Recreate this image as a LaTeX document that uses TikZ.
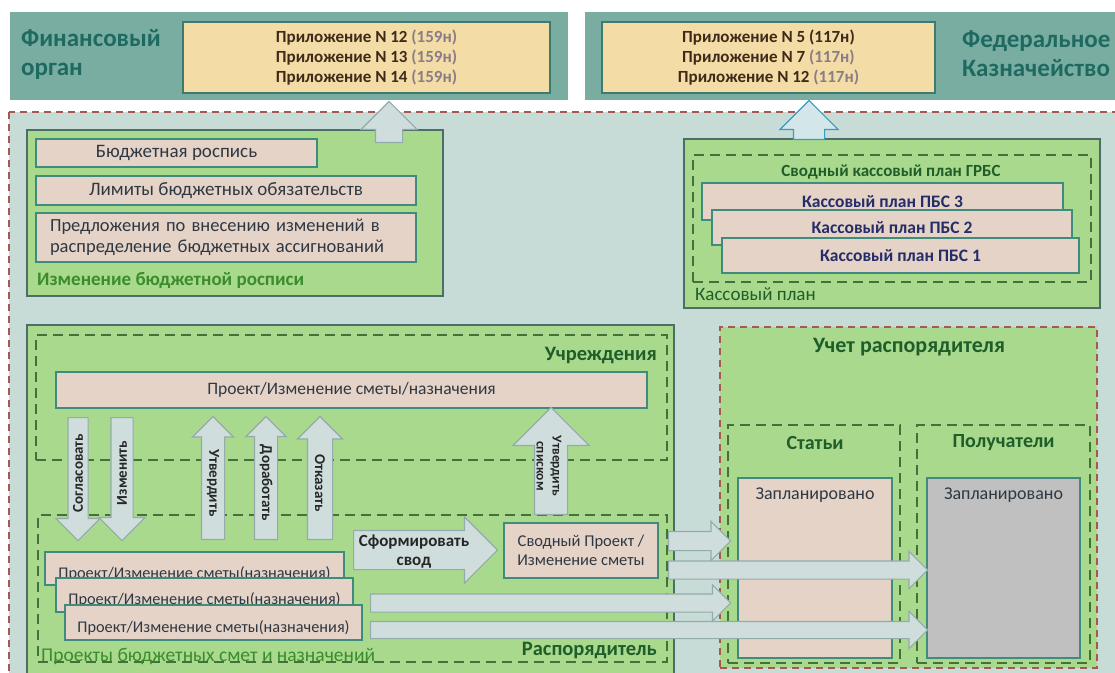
\documentclass[tikz,border=0pt]{standalone}
\usepackage{fontspec}
\setmainfont{Carlito}
\usetikzlibrary{shapes.arrows}

\definecolor{bandteal}{HTML}{7AADA1}
\definecolor{titleteal}{HTML}{1F6A60}
\definecolor{appyellow}{HTML}{F3DCA5}
\definecolor{appline}{HTML}{3E7A6E}
\definecolor{apptext}{HTML}{3F2A1A}
\definecolor{appgrey}{HTML}{8B7D86}
\definecolor{regionfill}{HTML}{C8DCD7}
\definecolor{dashbrown}{HTML}{A35A52}
\definecolor{boxgreen}{HTML}{A9D98C}
\definecolor{boxline}{HTML}{4B6E68}
\definecolor{boxpink}{HTML}{E5D3C8}
\definecolor{pinkline}{HTML}{3F8C7E}
\definecolor{dashgreen}{HTML}{44703C}
\definecolor{labelgreen}{HTML}{3B8C2C}
\definecolor{darkgreen}{HTML}{1F5E2A}
\definecolor{darktext}{HTML}{2E3842}
\definecolor{arrowfill}{HTML}{CFDEDD}
\definecolor{arrowline}{HTML}{93ABAA}
\definecolor{fedarrowline}{HTML}{3A9CBB}
\definecolor{fedarrowfill}{HTML}{D3E7EA}
\definecolor{greyfill}{HTML}{C0C0C0}

\newcommand{\fsz}[2]{\fontsize{#1}{#2}\selectfont}
\newcommand{\greypart}[1]{{\color{appgrey}#1}}

\tikzstyle{band}=[
    fill=bandteal,
    inner sep=0pt,
  ]
\tikzstyle{bandtitle}=[
    align=left,
    inner sep=0pt,
    text=titleteal,
    font=\fsz{25}{29}\bfseries,
  ]
\tikzstyle{appbox}=[
    draw=appline,
    fill=appyellow,
    line width=1.8pt,
    inner sep=0pt,
    align=center,
    text=apptext,
    font=\fsz{17}{20}\bfseries,
  ]
\tikzstyle{greenbox}=[
    draw=boxline,
    fill=boxgreen,
    line width=1.6pt,
    inner sep=0pt,
  ]
\tikzstyle{pinkbox}=[
    draw=pinkline,
    fill=boxpink,
    line width=1.8pt,
    inner sep=0pt,
    text=darktext,
  ]
\tikzstyle{greydash}=[
    draw=dashgreen,
    line width=1.6pt,
    dash pattern=on 10pt off 6pt,
    inner sep=0pt,
  ]
\tikzstyle{browndash}=[
    draw=dashbrown,
    line width=1.4pt,
    dash pattern=on 7pt off 5pt,
  ]
\tikzstyle{barrow}=[
    single arrow,
    draw=arrowline,
    fill=arrowfill,
    line width=1.2pt,
    inner xsep=0pt,
    anchor=tail,
  ]
\tikzstyle{arrowtext}=[
    inner sep=0pt,
    text=black!85,
    font=\fsz{15}{17}\bfseries,
  ]
\tikzstyle{grouplabel}=[
    inner sep=0pt,
    text=darkgreen,
    font=\fsz{20.5}{23}\bfseries,
  ]

\begin{document}
\begin{tikzpicture}[x=1pt, y=-1pt]
  \clip (0,0) rectangle (1115,672);
  \fill[white] (0,0) rectangle (1115,672);

  % top: finance body and treasury
  \node[band, minimum width=558pt, minimum height=88pt] (finband) at (289,56) {};
  \node[band, minimum width=540pt, minimum height=88pt] (fedband) at (855,56) {};
  \node[bandtitle, anchor=west] (fintitle) at (21,54) {Финансовый\\орган};
  \node[bandtitle, anchor=west] (fedtitle) at (962,54) {Федеральное\\Казначейство};
  \node[appbox, minimum width=367pt, minimum height=71pt] (finapp) at (366.5,57.5)
    {Приложение N 12 \greypart{(159н)}\\Приложение N 13 \greypart{(159н)}\\Приложение N 14 \greypart{(159н)}};
  \node[appbox, minimum width=333pt, minimum height=71pt] (fedapp) at (768.5,57.5)
    {Приложение N 5 (117н)\\Приложение N 7 \greypart{(117н)}\\Приложение N 12 \greypart{(117н)}};

  % big dashed region
  \draw[browndash, fill=regionfill] (9,112) rectangle (1140,700);

  % budget list changes
  \node[greenbox, minimum width=416pt, minimum height=166pt] (budchange) at (235,213) {};
  \node[pinkbox, minimum width=281pt, minimum height=28pt, font=\fsz{19}{21}] (budrosp) at (176.5,153) {Бюджетная роспись};
  \node[pinkbox, minimum width=380pt, minimum height=29pt, font=\fsz{19}{21}] (limits) at (226,190.5) {Лимиты бюджетных обязательств};
  \node[pinkbox, minimum width=380pt, minimum height=49pt, font=\fsz{18.5}{21}, text width=352pt, align=left] (proposals) at (226,237.5)
    {Предложения по внесению изменений в\\распределение бюджетных ассигнований};
  \node[inner sep=0pt, anchor=west, text=labelgreen, font=\fsz{19}{21}\bfseries] (budlabel) at (37,280) {Изменение бюджетной росписи};

  % cash plan
  \node[greenbox, minimum width=416pt, minimum height=169pt] (cashplan) at (892,223.5) {};
  \node[greydash, minimum width=398pt, minimum height=127pt] (cashdash) at (892,218.5) {};
  \node[inner sep=0pt, text=darkgreen, font=\fsz{17}{20}\bfseries] (grbs) at (891,172) {Сводный кассовый план ГРБС};
  \foreach \nm/\x/\y/\w/\h/\n in {pbs3/882.5/201.5/361/37/3, pbs2/892/227.5/360/35/2, pbs1/900.5/255.5/357/35/1} {%
    \node[pinkbox, minimum width=\w pt, minimum height=\h pt, font=\fsz{17.5}{19}\bfseries, text=darktext!80!blue] (\nm) at (\x,\y) {Кассовый план ПБС \n};
  }
  \node[inner sep=0pt, anchor=west, text=darkgreen, font=\fsz{19}{21}] (cashlabel) at (695,294) {Кассовый план};

  % arrows up to the top bodies
  \node[barrow, rotate=90, minimum height=41pt, inner ysep=13pt, single arrow head extend=14.5pt] (upfin) at (389,143) {};
  \node[barrow, rotate=90, draw=fedarrowline, fill=fedarrowfill, minimum height=39pt, inner ysep=15pt, single arrow head extend=13.5pt] (upfed) at (809,140) {};

  % distributor
  \node[greenbox, minimum width=647pt, minimum height=365pt] (distrib) at (350.5,507.5) {};
  \node[greydash, minimum width=631pt, minimum height=125pt] (instdash) at (351.5,397.5) {};
  \node[grouplabel, anchor=east] (instlabel) at (657,355) {Учреждения};
  \node[pinkbox, minimum width=591pt, minimum height=36pt, font=\fsz{17.5}{20}] (projbar) at (351.5,390) {Проект/Изменение сметы/назначения};
  \node[greydash, minimum width=629pt, minimum height=147pt] (distdash) at (352.5,588.5) {};
  \node[grouplabel, anchor=east] (distlabel) at (657,650) {Распорядитель};
  \node[inner sep=0pt, anchor=base west, text=labelgreen, font=\fsz{19.5}{21}] (projlabel) at (41,661) {Проекты бюджетных смет и назначений};

  % down: agree / change
  \foreach \nm/\x/\sw/\ext/\txt in {agree/78/9.5/12/Согласовать, change/122/10.5/12/Изменить} {%
    \node[barrow, rotate=-90, minimum height=123pt, inner ysep=\sw pt, single arrow head extend=\ext pt] (\nm) at (\x,417) {};
    \node[arrowtext, rotate=90] (\nm-t) at (\x,473) {\txt};
  }
  % up: approve / rework / refuse
  \foreach \nm/\x/\sw/\ext/\txt in {approve/213/11/9/Утвердить, rework/266/11/8.5/Доработать, refuse/320/12/10/Отказать} {%
    \node[barrow, rotate=90, minimum height=123pt, inner ysep=\sw pt, single arrow head extend=\ext pt] (\nm) at (\x,540) {};
    \node[arrowtext, rotate=-90] (\nm-t) at (\x,483) {\txt};
  }
  \node[barrow, rotate=90, minimum height=107pt, inner ysep=16pt, single arrow head extend=21.5pt] (listapprove) at (551,515) {};
  \node[arrowtext, rotate=-90, align=center, font=\fsz{13.5}{16}\bfseries] (listapprove-t) at (549,466) {Утвердить\\списком};

  % draft estimates
  \foreach \nm/\x/\y/\w/\h in {proj1/194.5/568.5/299/33, proj2/204.5/595/297/34, proj3/213.5/622.5/297/35} {%
    \node[pinkbox, minimum width=\w pt, minimum height=\h pt, text height=19pt, text depth=0pt, font=\fsz{16.3}{18}] (\nm) at (\x,\y) {Проект/Изменение сметы(назначения)};
  }
  \node[barrow, minimum height=144pt, inner ysep=19pt, single arrow head extend=13.5pt] (form) at (353,550) {};
  \node[arrowtext, align=center, font=\fsz{17}{19}\bfseries] (form-t) at (414,552) {Сформировать\\свод};
  \node[pinkbox, minimum width=154pt, minimum height=55pt, align=center, font=\fsz{16.5}{19}] (sumbox) at (581,550.5) {Сводный Проект /\\Изменение сметы};

  % accounting of the distributor
  \node[browndash, fill=boxgreen, minimum width=377pt, minimum height=341pt, inner sep=0pt] (acct) at (908.5,497.5) {};
  \node[grouplabel, font=\fsz{22}{24}\bfseries] (acctlabel) at (909,347) {Учет распорядителя};
  \node[greydash, minimum width=172pt, minimum height=238pt] (itemsdash) at (814,544) {};
  \node[greydash, minimum width=173pt, minimum height=238pt] (recipsdash) at (1003.5,544) {};
  \node[grouplabel, font=\fsz{20}{22}\bfseries] (itemslabel) at (815,443) {Статьи};
  \node[grouplabel, font=\fsz{20}{22}\bfseries] (recipslabel) at (1003.5,443) {Получатели};
  \node[pinkbox, minimum width=154pt, minimum height=180pt] (items) at (815,568) {};
  \node[pinkbox, fill=greyfill, minimum width=153pt, minimum height=180pt] (recips) at (1003.5,568) {};
  \node[inner sep=0pt, text=darktext, font=\fsz{18}{20}] (itemsplan) at (815,495) {Запланировано};
  \node[inner sep=0pt, text=darktext, font=\fsz{18}{20}] (recipsplan) at (1003.5,495) {Запланировано};

  % flows to the accounting
  \foreach \nm/\x/\y/\len/\sw/\ext in {sumitems/668/541/62/9/10, sumrecips/668/570/259/8.5/9.5, projitems/370/603/360/8.5/9, projrecips/370/630/557/8/10} {%
    \node[barrow, minimum height=\len pt, inner ysep=\sw pt, single arrow head extend=\ext pt] (\nm) at (\x,\y) {};
  }
\end{tikzpicture}
\end{document}
